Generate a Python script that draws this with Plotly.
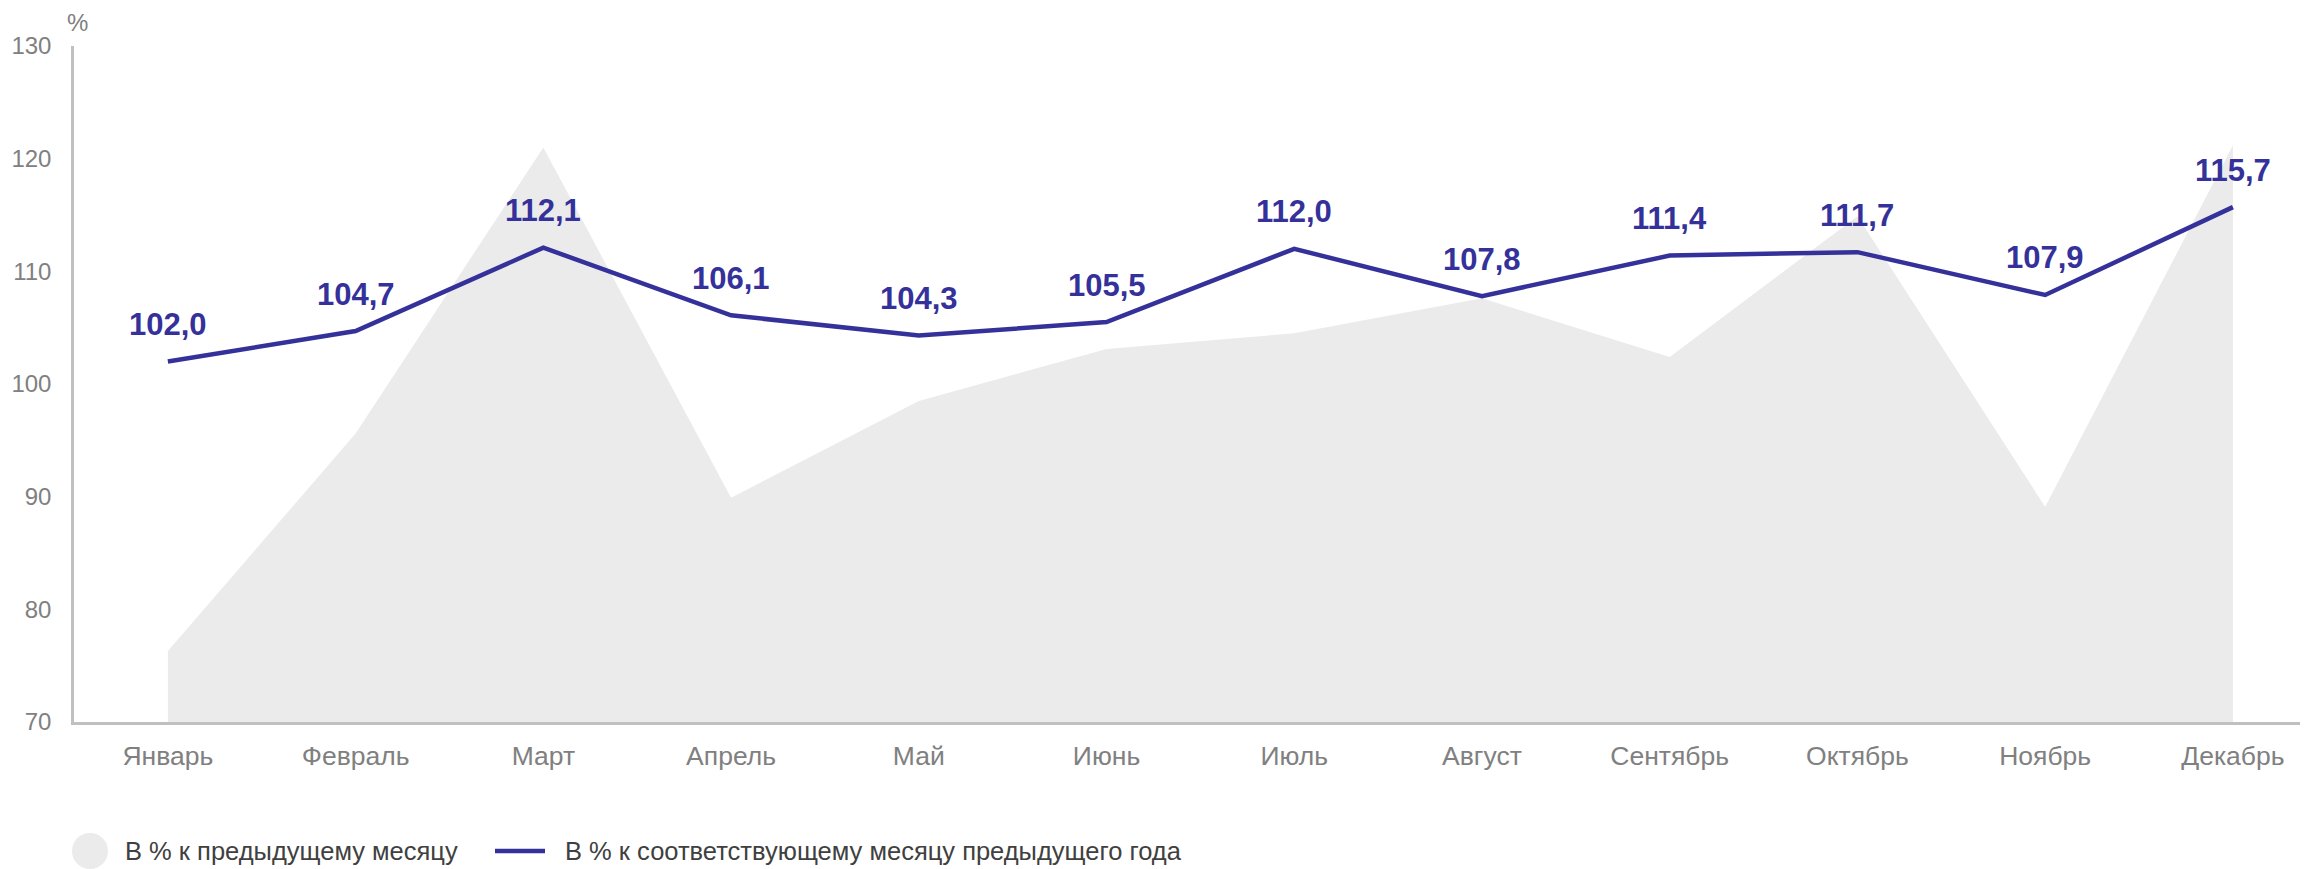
import plotly.graph_objects as go

months = ["Январь", "Февраль", "Март", "Апрель", "Май", "Июнь",
          "Июль", "Август", "Сентябрь", "Октябрь", "Ноябрь", "Декабрь"]
mom = [76.3, 95.6, 121.0, 89.9, 98.5, 103.1, 104.5, 107.6, 102.4, 114.9, 89.1, 121.2]
yoy = [102.0, 104.7, 112.1, 106.1, 104.3, 105.5, 112.0, 107.8, 111.4, 111.7, 107.9, 115.7]
legend_names = ["В % к предыдущему месяцу", "В % к соответствующему месяцу предыдущего года"]
y_ticks = [70, 80, 90, 100, 110, 120, 130]

# page body has an 8px margin; figure spans 8..2308 x 8..869
OFF = 8
W, H = 2308 - OFF, 869 - OFF
ML, MR, MT, MB = 74 - OFF, 0, 46 - OFF, 147
LINE = "#35319a"
AREA = "#ebebeb"
TICK = "#808080"
FONT = "Liberation Sans, Arial, sans-serif"

fig = go.Figure()
fig.add_trace(go.Scatter(x=months, y=mom, mode="none", fill="tozeroy",
                         fillcolor=AREA, name=legend_names[0], showlegend=False,
                         hoverinfo="x+y"))
fig.add_trace(go.Scatter(x=months, y=yoy, mode="lines",
                         line=dict(color=LINE, width=4.5), name=legend_names[1],
                         showlegend=False))

for m, v in zip(months, yoy):
    fig.add_annotation(x=m, y=v, text=f"{v:.1f}".replace(".", ","), showarrow=False,
                       yshift=37, yanchor="middle",
                       font=dict(family=FONT, size=31, color=LINE, weight="bold"))

pw = W - ML - MR
ph = H - MT - MB
def px_x(px):
    return (px - OFF - ML) / pw
def px_y(py):
    return (H - MB - (py - OFF)) / ph

fig.add_annotation(xref="paper", yref="paper", x=px_x(77), y=px_y(22), text="%",
                   showarrow=False, xanchor="center", yanchor="middle",
                   font=dict(family=FONT, size=24, color=TICK))

# custom legend
fig.add_shape(type="circle", xref="paper", yref="paper", xsizemode="pixel", ysizemode="pixel",
              xanchor=px_x(90), yanchor=px_y(851), x0=-18, x1=18, y0=-18, y1=18,
              fillcolor=AREA, line=dict(width=0))
fig.add_annotation(xref="paper", yref="paper", x=px_x(123), y=px_y(851), text=legend_names[0],
                   showarrow=False, xanchor="left", yanchor="middle",
                   font=dict(family=FONT, size=25.5, color="#404040"))
fig.add_shape(type="line", xref="paper", yref="paper", x0=px_x(495), x1=px_x(545),
              y0=px_y(851), y1=px_y(851), line=dict(color=LINE, width=4.5))
fig.add_annotation(xref="paper", yref="paper", x=px_x(563), y=px_y(851), text=legend_names[1],
                   showarrow=False, xanchor="left", yanchor="middle",
                   font=dict(family=FONT, size=25.5, color="#404040"))

fig.update_layout(
    width=W, height=H, autosize=False,
    margin=dict(l=ML, r=MR, t=MT, b=MB, pad=0),
    paper_bgcolor="white", plot_bgcolor="white",
    separators=", ",
    showlegend=False,
    font=dict(family=FONT),
)
fig.update_xaxes(type="category", range=[-0.5, 11.4], showgrid=False, zeroline=False,
                 showline=True, linecolor="#c0c0c0", linewidth=3,
                 ticks="", ticklabelstandoff=8,
                 tickfont=dict(family=FONT, size=26.5, color=TICK))
fig.update_yaxes(range=[70, 130], tickvals=y_ticks, showgrid=False, zeroline=False,
                 showline=True, linecolor="#c0c0c0", linewidth=2.5,
                 ticks="", ticklabelstandoff=15,
                 tickfont=dict(family=FONT, size=24, color=TICK))

fig.write_html("out.html")
